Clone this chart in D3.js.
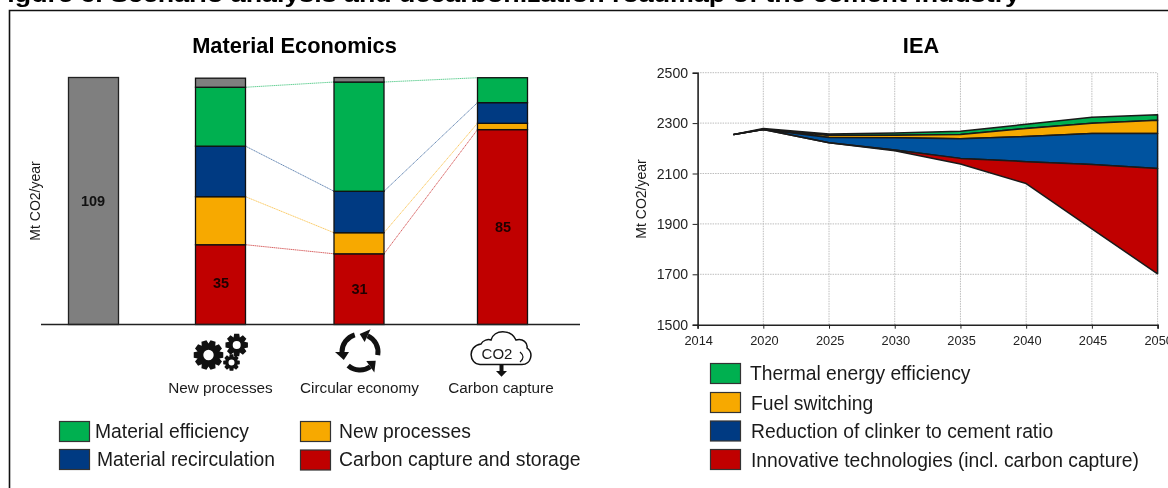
<!DOCTYPE html>
<html><head><meta charset="utf-8">
<script src="https://cdnjs.cloudflare.com/ajax/libs/d3/7.8.5/d3.min.js"></script>
<style>
html,body{margin:0;padding:0;background:#fff;overflow:hidden}
svg{display:block;filter:blur(.35px)}
text{font-family:"Liberation Sans",Arial,sans-serif;fill:#1a1a1a}
</style></head><body>
<svg id="c" width="1168" height="488"></svg>
<script>
// ---- left panel data (Mt CO2/year)
const barCategories = ["Baseline","New processes","Circular economy","Carbon capture"];
const baselineValue = [109];
const residual   = [0, 4, 2, 0];
const efficiency = [0, 26, 48.2, 11];
const recirc     = [0, 22.3, 18.3, 9.1];
const newProc    = [0, 21.2, 9.3, 2.8];
const ccs        = [0, 35.2, 31.2, 86];
const barLabels  = ["109","35","31","85"];
const leftLegendA = ["Material efficiency","Material recirculation"];
const leftLegendB = ["New processes","Carbon capture and storage"];
// ---- right panel data
const iaYearsTicks = [2014,2020,2025,2030,2035,2040,2045,2050];
const iaYTicks = [1500,1700,1900,2100,2300,2500];
const years      = [2017.3,2020,2025,2030,2035,2040,2045,2050];
const innovLow   = [2255,2275,2222,2190,2138,2060,1880,1702];
const clinkerLow = [2255,2275,2222,2193,2160,2147,2136,2120];
const fuelLow    = [2255,2275,2243,2242,2238,2247,2259,2259];
const thermalLow = [2255,2276,2251,2252,2255,2279,2299,2311];
const thermalTop = [2255,2279,2257,2261,2268,2295,2323,2333];
const rightLegend = ["Thermal energy efficiency","Fuel switching","Reduction of clinker to cement ratio","Innovative technologies (incl. carbon capture)"];

const GREEN="#00b050",NAVY="#003a82",ORANGE="#f7a900",RED="#c00000",GRAY="#7f7f7f",BLUE2="#00539f";
const svg=d3.select("#c");

// page caption and frame
svg.append("text").attr("x",-9).attr("y",2).attr("font-size",22).attr("font-weight","bold").style("fill","#000")
  .attr("textLength",1029).attr("lengthAdjust","spacingAndGlyphs")
  .text("Figure 6. Scenario analysis and decarbonization roadmap of the cement industry");
svg.append("path").attr("d","M1170,10.5H9.5V490").attr("fill","none").attr("stroke","#111").attr("stroke-width",1.6);

// ---- left chart
const yL=d3.scaleLinear().domain([0,109]).range([324.5,77.5]);
const xL=d3.scaleOrdinal().domain(barCategories).range([93.5,220.5,359,502.5]);
const bw=50;
const stackKeys=[["ccs",ccs,RED],["newProc",newProc,ORANGE],["recirc",recirc,NAVY],["efficiency",efficiency,GREEN],["residual",residual,GRAY]];
const rows=barCategories.map((c,i)=>{const r={c};stackKeys.forEach(k=>r[k[0]]=k[1][i]);return r;});
const series=d3.stack().keys(stackKeys.map(k=>k[0]))(rows);
const topOf=(k,i)=>yL(series[k][i][1]);

// connector lines
[[3,GREEN],[2,NAVY],[1,ORANGE],[0,RED]].forEach(([k,col])=>{
  for(let i=1;i<3;i++){
    svg.append("line").attr("x1",xL(barCategories[i])+bw/2).attr("x2",xL(barCategories[i+1])-bw/2)
      .attr("y1",topOf(k,i)).attr("y2",topOf(k,i+1))
      .attr("stroke",col).attr("stroke-opacity",.6).attr("stroke-width",1).attr("stroke-dasharray","1.4 .5");
  }
});
// baseline gray
svg.append("rect").attr("x",xL(barCategories[0])-bw/2).attr("width",bw)
  .attr("y",yL(baselineValue[0])).attr("height",yL(0)-yL(baselineValue[0]))
  .attr("fill",GRAY).attr("stroke","#222").attr("stroke-width",1.3);
series.forEach((s,k)=>{
  svg.append("g").selectAll("rect").data(s.slice(1)).join("rect")
    .attr("x",d=>xL(d.data.c)-bw/2).attr("width",bw)
    .attr("y",d=>yL(d[1])).attr("height",d=>yL(d[0])-yL(d[1]))
    .attr("fill",stackKeys[k][2]).attr("stroke","#111").attr("stroke-width",1.3);
});
svg.append("line").attr("x1",41).attr("x2",580).attr("y1",324.5).attr("y2",324.5).attr("stroke","#222").attr("stroke-width",1.7);
svg.append("text").attr("x",294.5).attr("y",53).attr("text-anchor","middle").attr("font-size",21.8).attr("font-weight","bold").style("fill","#000").text("Material Economics");
svg.append("text").attr("transform","translate(40,201) rotate(-90)").attr("text-anchor","middle").attr("font-size",14).text("Mt CO2/year");
const labelY=[201,283,289,226.5];
barLabels.forEach((t,i)=>svg.append("text").attr("x",xL(barCategories[i])-(i==0?.5:-.5)).attr("y",labelY[i]+5)
  .attr("text-anchor","middle").attr("font-size",14.5).attr("font-weight","bold").style("fill",i?"#200000":"#111").text(t));
[[1,"New processes",220.5],[2,"Circular economy",359.5],[3,"Carbon capture",501]].forEach(([i,t,x])=>
  svg.append("text").attr("x",x).attr("y",393).attr("text-anchor","middle").attr("font-size",15.3).text(t));

// icons
function gear(cx,cy,R,r,hole,n){
  const pts=[];const st=Math.PI*2/n;
  for(let i=0;i<n;i++){const a=i*st;
    [[-.5,r],[-.28,R],[.28,R],[.5,r]].forEach(([f,rad])=>{const t=a+f*st;pts.push([cx+rad*Math.cos(t),cy+rad*Math.sin(t)]);});
  }
  const outer="M"+pts.map(p=>p.join(",")).join("L")+"Z";
  const inner=`M${cx+hole},${cy}a${hole},${hole} 0 1,0 ${-2*hole},0a${hole},${hole} 0 1,0 ${2*hole},0Z`;
  return outer+inner;
}
[[208.5,355,15,11.5,5.2,10],[236.7,345,11.5,8.2,4,8],[231.5,362.5,8.5,6,3,8]].forEach(g=>
  svg.append("path").attr("d",gear(...g)).attr("fill","#111").attr("fill-rule","evenodd"));
// recycle arrows: three counter-clockwise arcs (clock angles in degrees)
const cx=360,cy=352,arc=d3.arc().innerRadius(15.5).outerRadius(20.5);
const rad=d=>d*Math.PI/180;
const polar=(deg,r)=>[cx+r*Math.sin(rad(deg)),cy-r*Math.cos(rad(deg))];
[[-90,-17],[25,100],[145,221]].forEach(([a,b])=>{
  svg.append("path").attr("transform",`translate(${cx},${cy})`).attr("fill","#111")
    .attr("d",arc({startAngle:rad(a),endAngle:rad(b)}));
  const p=[polar(a,25),polar(a-26,18),polar(a,11)];
  svg.append("path").attr("fill","#111").attr("d","M"+p.map(q=>q.join(",")).join("L")+"Z");
});
// cloud
svg.append("path").attr("fill","#fff").attr("stroke","#111").attr("stroke-width",1.5)
  .attr("d","M480,364.5 C469,364 467,346 481,344 C483,340 488,339 491,340 C494,329 511,329 516,340 C523,338 528,343 527,348 C534,353 531,364.5 522,364.5 Z");
svg.append("text").attr("x",497).attr("y",359).attr("text-anchor","middle").attr("font-size",15).text("CO2");
svg.append("path").attr("fill","none").attr("stroke","#111").attr("stroke-width",1.2).attr("d","M520,352 Q526,357 520,362");
svg.append("path").attr("fill","#111").attr("d","M499.5,364h4v7h3.5l-5.5,5.8l-5.5,-5.8h3.5Z");

// legends
function legendItem(x,y,w,h,col,tx,ty,txt,fs){
  svg.append("rect").attr("x",x).attr("y",y).attr("width",w).attr("height",h).attr("fill",col).attr("stroke","#333").attr("stroke-width",1.2);
  svg.append("text").attr("x",tx).attr("y",ty).attr("font-size",fs).text(txt);
}
legendItem(59.5,421.5,30,20,GREEN,95,437.5,leftLegendA[0],19.3);
legendItem(59.5,449.5,30,20,NAVY,97,466,leftLegendA[1],19.3);
legendItem(300.5,421.5,30,20,ORANGE,339,438,leftLegendB[0],19.3);
legendItem(300.5,450,30,20,RED,339,466,leftLegendB[1],19.4);

// ---- right chart
const xR=d3.scaleLinear().domain([2014,2020,2050]).range([697.6,763.3,1157.6]);
const yR=d3.scaleLinear().domain([1500,2500]).range([324.7,72.7]);
const gridG=svg.append("g").attr("stroke","#bdbdbd").attr("stroke-width",1).attr("stroke-dasharray","1.5 1");
iaYTicks.slice(1).forEach(t=>gridG.append("line").attr("x1",xR(2014)).attr("x2",xR(2050)).attr("y1",yR(t)).attr("y2",yR(t)));
iaYearsTicks.slice(1).forEach(t=>gridG.append("line").attr("y1",yR(1500)).attr("y2",yR(2500)).attr("x1",xR(t)).attr("x2",xR(t)));
const band=(lo,hi,col)=>svg.append("path").datum(years.map((y,i)=>({y,l:lo[i],h:hi[i]})))
  .attr("fill",col).attr("stroke","#1a1a1a").attr("stroke-width",1.5).attr("stroke-linejoin","round")
  .attr("d",d3.area().x(d=>xR(d.y)).y0(d=>yR(d.l)).y1(d=>yR(d.h)));
band(thermalLow,thermalTop,GREEN);
band(fuelLow,thermalLow,ORANGE);
band(clinkerLow,fuelLow,BLUE2);
band(innovLow,clinkerLow,RED);

const axL=svg.append("g").attr("transform",`translate(${xR(2014)},0)`).call(d3.axisLeft(yR).tickValues(iaYTicks).tickSize(5).tickFormat(d3.format("d")));
const axB=svg.append("g").attr("transform",`translate(0,${yR(1500)})`).call(d3.axisBottom(xR).tickValues(iaYearsTicks).tickSize(4).tickFormat(d3.format("d")));
[axL,axB].forEach(a=>{a.select(".domain").attr("stroke","#222").attr("stroke-width",1.6);a.selectAll(".tick line").attr("stroke","#222");a.selectAll("text").attr("font-family",'"Liberation Sans",Arial,sans-serif').style("fill","#222");});
axL.selectAll("text").attr("x",-9.5).attr("font-size",14.1);
axB.selectAll("text").attr("y",11).attr("dx",0.6).attr("font-size",12.8);
svg.append("text").attr("transform","translate(646,199) rotate(-90)").attr("text-anchor","middle").attr("font-size",14).text("Mt CO2/year");
svg.append("text").attr("x",921).attr("y",53).attr("text-anchor","middle").attr("font-size",21.8).attr("font-weight","bold").style("fill","#000").text("IEA");

[[GREEN,750,379.5],[ORANGE,751,409.5],[NAVY,751,438],[RED,751,466.5]].forEach(([c,tx,ty],i)=>
  legendItem(710.5,[363.5,392.5,421,449.5][i],30,20,c,tx,ty,rightLegend[i],19.3));
</script>
</body></html>
